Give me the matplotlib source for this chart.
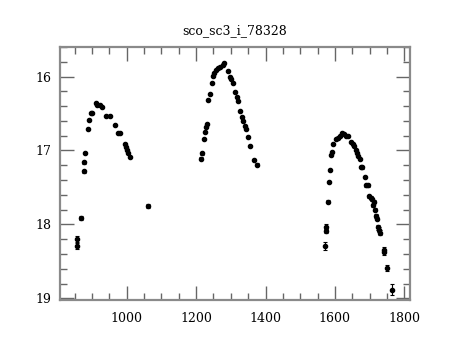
import numpy as np
import matplotlib
matplotlib.use('Agg')
import matplotlib.pyplot as plt
from matplotlib.ticker import MultipleLocator

title = 'sco_sc3_i_78328'

# season 1
t1 = [856.5, 858, 867, 876, 878, 880, 887.5, 892.5, 896, 899, 910, 915.5, 922, 930,
      941.5, 951, 967.5, 975, 980, 993.5, 997, 1001, 1005, 1008.5, 1060]
m1 = [18.29, 18.20, 17.91, 17.28, 17.16, 17.03, 16.71, 16.59, 16.50, 16.50, 16.36, 16.38, 16.39, 16.41,
      16.53, 16.53, 16.66, 16.77, 16.77, 16.91, 16.95, 16.99, 17.03, 17.09, 17.75]
e1 = [0.04, 0.04, 0.03, 0.02, 0.02, 0.015, 0.01, 0.01, 0.01, 0.01, 0.01, 0.01, 0.01, 0.01,
      0.01, 0.01, 0.01, 0.01, 0.01, 0.01, 0.01, 0.01, 0.015, 0.015, 0.03]

# season 2
t2 = [1213, 1216, 1223, 1225.5, 1228.5, 1230, 1235.5, 1239, 1246, 1250, 1252.5, 1258.5, 1264, 1270,
      1276, 1280.5, 1291, 1297.5, 1300.5, 1305.5, 1313, 1317, 1320.5, 1326.5, 1331.5, 1335, 1340,
      1343, 1349.5, 1355, 1368, 1374.5]
m2 = [17.11, 17.04, 16.85, 16.75, 16.68, 16.64, 16.32, 16.23, 16.09, 15.99, 15.95, 15.91, 15.89, 15.87,
      15.84, 15.82, 15.92, 16.00, 16.03, 16.09, 16.21, 16.28, 16.33, 16.47, 16.55, 16.60, 16.67,
      16.71, 16.82, 16.94, 17.13, 17.19]
e2 = [0.015, 0.015, 0.01, 0.01, 0.01, 0.01, 0.01, 0.01, 0.01, 0.01, 0.01, 0.01, 0.01, 0.01,
      0.01, 0.01, 0.01, 0.01, 0.01, 0.01, 0.01, 0.01, 0.01, 0.01, 0.01, 0.01, 0.01,
      0.01, 0.01, 0.01, 0.015, 0.015]

# season 3
t3 = [1570.5, 1575.5, 1575.5, 1581, 1583, 1586, 1589, 1591.5, 1595.5, 1602, 1608, 1614, 1620.5, 1626,
      1633, 1639, 1645.5, 1652, 1656, 1660, 1663.5, 1667.5, 1671.5, 1676.5, 1679, 1686.5, 1691,
      1694.5, 1699.5, 1703, 1707, 1709, 1712, 1714.5, 1718.5, 1720.5, 1723.5, 1727, 1731,
      1740.5, 1742.5, 1749.5, 1764.5]
m3 = [18.29, 18.03, 18.09, 17.69, 17.43, 17.26, 17.06, 17.02, 16.91, 16.84, 16.83, 16.81, 16.76, 16.78,
      16.80, 16.81, 16.88, 16.91, 16.94, 16.99, 17.03, 17.08, 17.12, 17.22, 17.23, 17.36, 17.47,
      17.47, 17.62, 17.64, 17.66, 17.74, 17.69, 17.80, 17.89, 17.92, 18.04, 18.07, 18.11,
      18.34, 18.37, 18.59, 18.88]
e3 = [0.05, 0.03, 0.03, 0.02, 0.015, 0.015, 0.01, 0.01, 0.01, 0.01, 0.01, 0.01, 0.01, 0.01,
      0.01, 0.01, 0.01, 0.01, 0.01, 0.01, 0.01, 0.01, 0.01, 0.015, 0.015, 0.015, 0.02,
      0.02, 0.02, 0.02, 0.02, 0.02, 0.02, 0.02, 0.025, 0.025, 0.03, 0.03, 0.03,
      0.04, 0.04, 0.04, 0.07]

xlim = (807, 1816)
ylim = (19.02, 15.6)

plt.rcParams['font.family'] = 'DejaVu Serif'
fig = plt.figure(figsize=(4.6, 3.4), dpi=100)
ax = fig.add_axes([0.130, 0.118, 0.761, 0.744])

for t, m, e in [(t1, m1, e1), (t2, m2, e2), (t3, m3, e3)]:
    ax.errorbar(t, m, yerr=e, fmt='o', color='black', ms=3, elinewidth=0.8, capsize=1.5, capthick=0.8)

ax.set_xlim(*xlim)
ax.set_ylim(*ylim)
ax.xaxis.set_major_locator(MultipleLocator(200))
ax.xaxis.set_minor_locator(MultipleLocator(50))
ax.yaxis.set_major_locator(MultipleLocator(1))
ax.yaxis.set_minor_locator(MultipleLocator(0.2))

gray = '#8a8a8a'
for s in ax.spines.values():
    s.set_color(gray)
    s.set_linewidth(1.6)
ax.tick_params(which='both', direction='in', top=True, right=True, color='#666666', width=1.0, labelsize=9)
ax.tick_params(which='major', length=10)
ax.tick_params(which='minor', length=5)
ax.tick_params(axis='x', pad=9)
ax.tick_params(axis='y', pad=6)

ax.set_title(title, fontsize=9, pad=9)

fig.savefig('out.png', dpi=100)
